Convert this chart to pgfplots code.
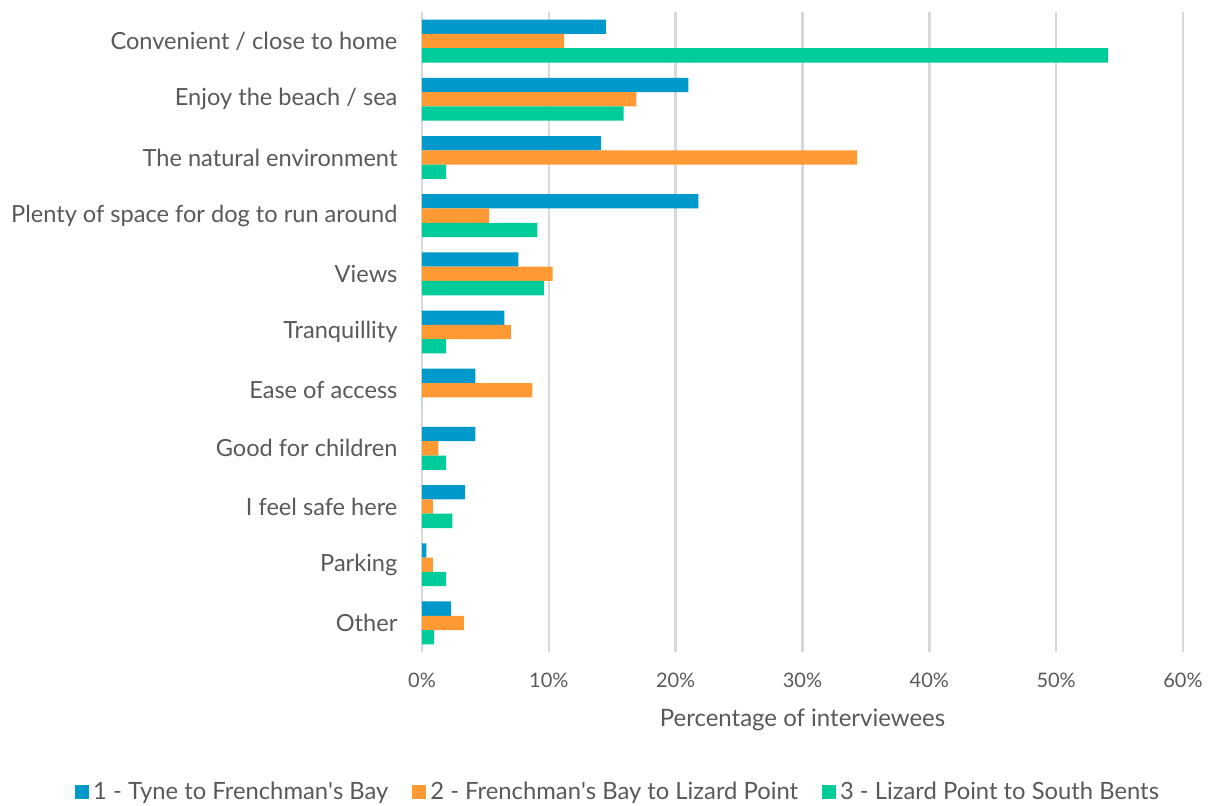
\documentclass[border=0pt]{standalone}
\usepackage{pgfplots}
\pgfplotsset{compat=1.18}
\usepackage{fontspec}
\setmainfont{Lato}
\definecolor{cblue}{RGB}{0,153,204}
\definecolor{corange}{RGB}{255,153,51}
\definecolor{cgreen}{RGB}{0,204,153}
\definecolor{txt}{RGB}{89,89,89}
\definecolor{grd}{RGB}{217,217,217}

% values in percent, category 10 = top
\pgfplotstableread{
y  a     b     c
10 14.5  11.2  54.1
9  21.0  16.9  15.9
8  14.1  34.3  1.9
7  21.8  5.3   9.1
6  7.6   10.3  9.6
5  6.5   7.0   1.9
4  4.2   8.7   0
3  4.2   1.3   1.9
2  3.4   0.85  2.4
1  0.35  0.85  1.9
0  2.3   3.3   0.95
}\datatable

\begin{document}
\begin{tikzpicture}
\begin{axis}[
    scale only axis,
    width=380.5pt, height=320pt,
    xmin=0, xmax=60, ymin=-0.5, ymax=10.5,
    xtick={0,10,...,60},
    xticklabel={\pgfmathprintnumber{\tick}\%},
    /pgf/number format/assume math mode=true,
    ytick={0,...,10},
    yticklabels={Other,Parking,I feel safe here,Good for children,Ease of access,Tranquillity,Views,Plenty of space for dog to run around,The natural environment,Enjoy the beach / sea,Convenient / close to home},
    tick style={draw=none},
    axis line style={draw=none},
    xmajorgrids,
    grid style={grd, line width=1.2pt},
    xticklabel style={font=\fontsize{10}{12}\selectfont, text=txt, yshift=-7pt},
    yticklabel style={font=\fontsize{11.8}{13}\selectfont, text=txt, xshift=-4.5pt},
    xlabel={Percentage of interviewees},
    xlabel style={font=\fontsize{12}{14}\selectfont, text=txt, at={(axis description cs:0.5,-0.106)}, anchor=center},
    xbar, bar width=7.15pt,
    legend columns=3,
    legend style={at={(0.259,-0.219)}, anchor=center, draw=none, fill=none,
        font=\fontsize{11.9}{13}\selectfont, text=txt,
        /tikz/every even column/.append style={column sep=10pt}},
    legend image code/.code={\fill[#1] (0pt,-3.5pt) rectangle (7pt,3.5pt);},
]
\addplot[fill=cblue, draw=none, bar shift=7.15pt] table[x=a, y=y] {\datatable};
\addlegendentry{1 - Tyne to Frenchman\textquotesingle s Bay}
\addplot[fill=corange, draw=none, bar shift=0pt] table[x=b, y=y] {\datatable};
\addlegendentry{2 - Frenchman\textquotesingle s Bay to Lizard Point}
\addplot[fill=cgreen, draw=none, bar shift=-7.15pt] table[x=c, y=y] {\datatable};
\addlegendentry{3 - Lizard Point to South Bents}
\coordinate (bl) at (rel axis cs:0,0);
\coordinate (tr) at (rel axis cs:1,1);
\end{axis}
\pgfresetboundingbox
\path ([shift={(-211pt,-76.5pt)}]bl) rectangle ([shift={(15pt,6pt)}]tr);
\end{tikzpicture}
\end{document}
